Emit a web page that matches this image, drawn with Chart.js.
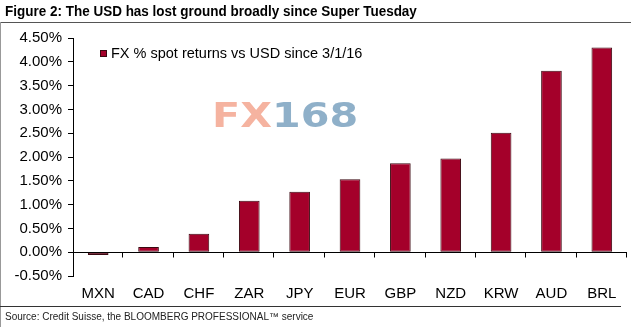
<!DOCTYPE html>
<html>
<head>
<meta charset="utf-8">
<script src="https://cdn.jsdelivr.net/npm/chart.js@4"></script>
<style>
  body { margin: 0; background: #fff; font-family: "Liberation Sans", Arial, sans-serif; }
  #wrap { position: relative; width: 631px; height: 327px; overflow: hidden; }
  #chart { position: absolute; left: 0; top: 0; }
  .title { position: absolute; left: 5px; top: 3px; font-size: 14.5px; font-weight: bold; color: #000;
           white-space: nowrap; transform: scaleX(0.93); transform-origin: left top; line-height: 16px; }
  .rule-top { position: absolute; left: 0; top: 22px; width: 631px; height: 1px; background: #555; }
  .rule-left { position: absolute; left: 0; top: 22px; width: 1px; height: 305px; background: #999; }
  .rule-bottom { position: absolute; left: 0; top: 306px; width: 621px; height: 1px; background: #333; }
  .source { position: absolute; left: 5px; top: 311px; font-size: 10px; color: #222; white-space: nowrap; line-height: 12px; }
</style>
</head>
<body>
<div id="wrap">
  <canvas id="chart" width="631" height="327"></canvas>
  <div class="title">Figure 2: The USD has lost ground broadly since Super Tuesday</div>
  <div class="rule-top"></div>
  <div class="rule-left"></div>
  <div class="rule-bottom"></div>
  <div class="source">Source: Credit Suisse, the BLOOMBERG PROFESSIONAL™ service</div>
</div>
<script>
const categories = ['MXN', 'CAD', 'CHF', 'ZAR', 'JPY', 'EUR', 'GBP', 'NZD', 'KRW', 'AUD', 'BRL'];
const spotReturns = [-0.06, 0.11, 0.39, 1.08, 1.27, 1.53, 1.87, 1.97, 2.51, 3.81, 4.30];
const seriesLabel = 'FX % spot returns vs USD since 3/1/16';
const yMin = -0.5;
const yMax = 4.5;
const yStep = 0.5;

const barColor = '#a4002a';
const barEdge = '#3a0810';

// zero line with little ticks hanging below it at the category boundaries
const zeroAxis = {
    id: 'zeroAxis',
    afterDatasetsDraw(chart) {
        const { ctx, chartArea, scales } = chart;
        const y0 = Math.round(scales.y.getPixelForValue(0)) + 0.5;
        const n = categories.length;
        const step = (chartArea.right - chartArea.left) / n;
        ctx.save();
        ctx.strokeStyle = '#000';
        ctx.lineWidth = 1;
        ctx.beginPath();
        ctx.moveTo(chartArea.left, y0);
        ctx.lineTo(chartArea.right, y0);
        for (let i = 1; i <= n; i++) {
            const x = Math.round(chartArea.left + i * step) - 0.5;
            ctx.moveTo(x, y0);
            ctx.lineTo(x, y0 + 5);
        }
        ctx.stroke();
        ctx.restore();
    }
};

// legend sits inside the plot, top left
const innerLegend = {
    id: 'innerLegend',
    afterDraw(chart) {
        const ctx = chart.ctx;
        const x = 100.5, y = 50.5;
        ctx.save();
        ctx.fillStyle = barColor;
        ctx.strokeStyle = barEdge;
        ctx.lineWidth = 1;
        ctx.fillRect(x, y, 6, 6);
        ctx.strokeRect(x, y, 6, 6);
        ctx.fillStyle = '#000';
        ctx.font = '14.5px "Liberation Sans", Arial, sans-serif';
        ctx.textBaseline = 'middle';
        ctx.fillText(chart.data.datasets[0].label, 111, 54);
        ctx.restore();
    }
};

// the FX168 watermark stamped on the picture
const watermark = {
    id: 'watermark',
    beforeDatasetsDraw(chart) {
        const ctx = chart.ctx;
        ctx.save();
        ctx.translate(212, 127);
        ctx.scale(1.25, 1);
        ctx.font = 'bold 33px "DejaVu Sans", sans-serif';
        ctx.textBaseline = 'alphabetic';
        ctx.fillStyle = '#f5b3a0';
        ctx.fillText('FX', 0, 0);
        const w = ctx.measureText('FX').width;
        ctx.fillStyle = '#8fb0c9';
        ctx.fillText('168', w, 0);
        ctx.restore();
    }
};

new Chart(document.getElementById('chart'), {
    type: 'bar',
    data: {
        labels: categories,
        datasets: [{
            label: seriesLabel,
            data: spotReturns,
            backgroundColor: barColor,
            borderColor: barEdge,
            borderWidth: 1,
            borderSkipped: false,
            barPercentage: 0.41,
            categoryPercentage: 1
        }]
    },
    options: {
        responsive: false,
        animation: false,
        devicePixelRatio: 1,
        layout: { padding: { top: 38, right: 4, left: 0, bottom: 0 } },
        plugins: {
            legend: { display: false },
            title: { display: false },
            tooltip: { enabled: false }
        },
        scales: {
            x: {
                afterFit: s => { s.height = 51; },
                grid: { display: false, drawTicks: false },
                border: { display: false },
                ticks: {
                    color: '#000',
                    padding: 9,
                    font: { family: '"Liberation Sans", Arial, sans-serif', size: 15 }
                }
            },
            y: {
                min: yMin,
                max: yMax,
                afterFit: s => { s.width = 73; },
                border: { display: true, color: '#000', width: 1 },
                grid: { drawOnChartArea: false, drawTicks: true, tickLength: 5, color: '#000' },
                ticks: {
                    stepSize: yStep,
                    color: '#000',
                    padding: 6,
                    font: { family: '"Liberation Sans", Arial, sans-serif', size: 15 },
                    callback: v => v.toFixed(2) + '%'
                }
            }
        }
    },
    plugins: [watermark, zeroAxis, innerLegend]
});
</script>
</body>
</html>
